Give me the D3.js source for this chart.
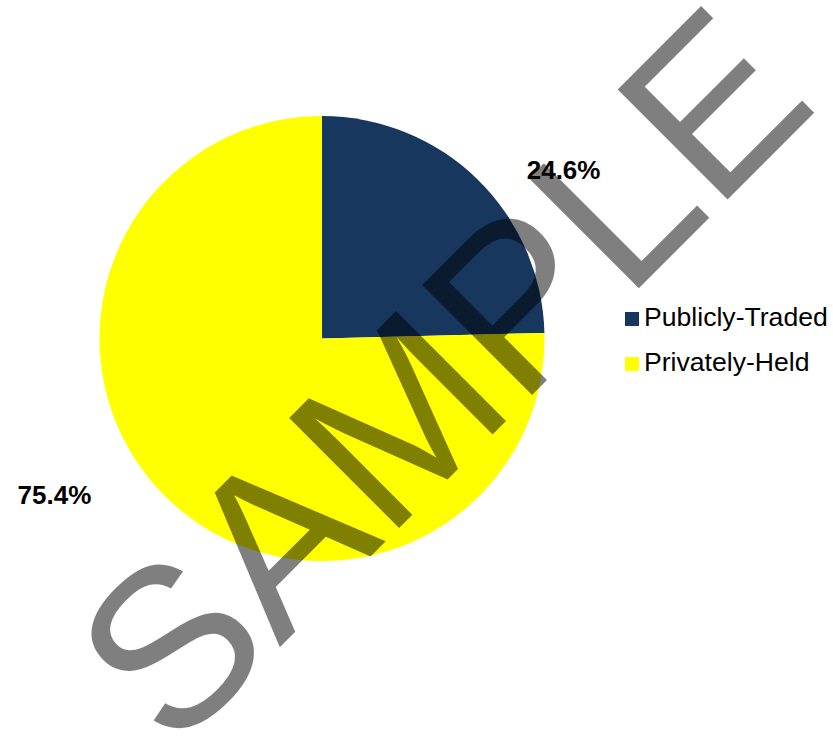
<!DOCTYPE html>
<html>
<head>
<meta charset="utf-8">
<script src="https://cdn.jsdelivr.net/npm/d3@7/dist/d3.min.js"></script>
<style>
  html, body { margin: 0; padding: 0; background: #ffffff; }
  svg { display: block; }
</style>
</head>
<body>
<svg id="chart" width="833" height="737"></svg>
<script>
// Share of companies by ownership type
const categories = ["Publicly-Traded", "Privately-Held"];
const shares = [24.6, 75.4];
const colors = ["#17375E", "#FFFF00"];

const W = 833, H = 737;
const cx = 322, cy = 338.5, radius = 222.5;
const font = "Liberation Sans, Arial, Helvetica, sans-serif";

const svg = d3.select("#chart");

const pie = d3.pie().sort(null).value(d => d).startAngle(0).endAngle(2 * Math.PI);
const arcs = pie(shares);
const arc = d3.arc().innerRadius(0).outerRadius(radius);

const g = svg.append("g").attr("transform", `translate(${cx},${cy})`);

g.selectAll("path.slice")
  .data(arcs)
  .join("path")
  .attr("class", "slice")
  .attr("d", arc)
  .attr("fill", (d, i) => colors[i]);

// Percentage labels sit outside the pie, swung a little clockwise from each slice's middle
const labelRadius = [295, 310];
const labelTurn = [10.7, 15.4].map(a => a * Math.PI / 180);
g.selectAll("text.pct")
  .data(arcs)
  .join("text")
  .attr("class", "pct")
  .attr("x", (d, i) => labelRadius[i] * Math.sin((d.startAngle + d.endAngle) / 2 + labelTurn[i]))
  .attr("y", (d, i) => -labelRadius[i] * Math.cos((d.startAngle + d.endAngle) / 2 + labelTurn[i]))
  .attr("dy", "0.36em")
  .attr("text-anchor", "middle")
  .attr("font-family", font)
  .attr("font-weight", "bold")
  .attr("font-size", 26)
  .attr("fill", "#000")
  .text(d => d.data.toFixed(1) + "%");

// Legend
const legend = svg.append("g").attr("transform", "translate(625,326)");
const item = legend.selectAll("g")
  .data(categories)
  .join("g")
  .attr("transform", (d, i) => `translate(0,${i * 45})`);
item.append("rect")
  .attr("x", 0).attr("y", -14)
  .attr("width", 14).attr("height", 14)
  .attr("fill", (d, i) => colors[i]);
item.append("text")
  .attr("x", 19).attr("y", 0)
  .attr("font-family", font)
  .attr("font-size", 26.6)
  .attr("fill", "#000")
  .text(d => d);

// Watermark
svg.append("text")
  .attr("transform", "translate(497,430) rotate(-45)")
  .attr("text-anchor", "middle")
  .attr("font-family", font)
  .attr("font-size", 226)
  .attr("fill", "#000")
  .attr("fill-opacity", 0.5)
  .text("SAMPLE");
</script>
</body>
</html>
